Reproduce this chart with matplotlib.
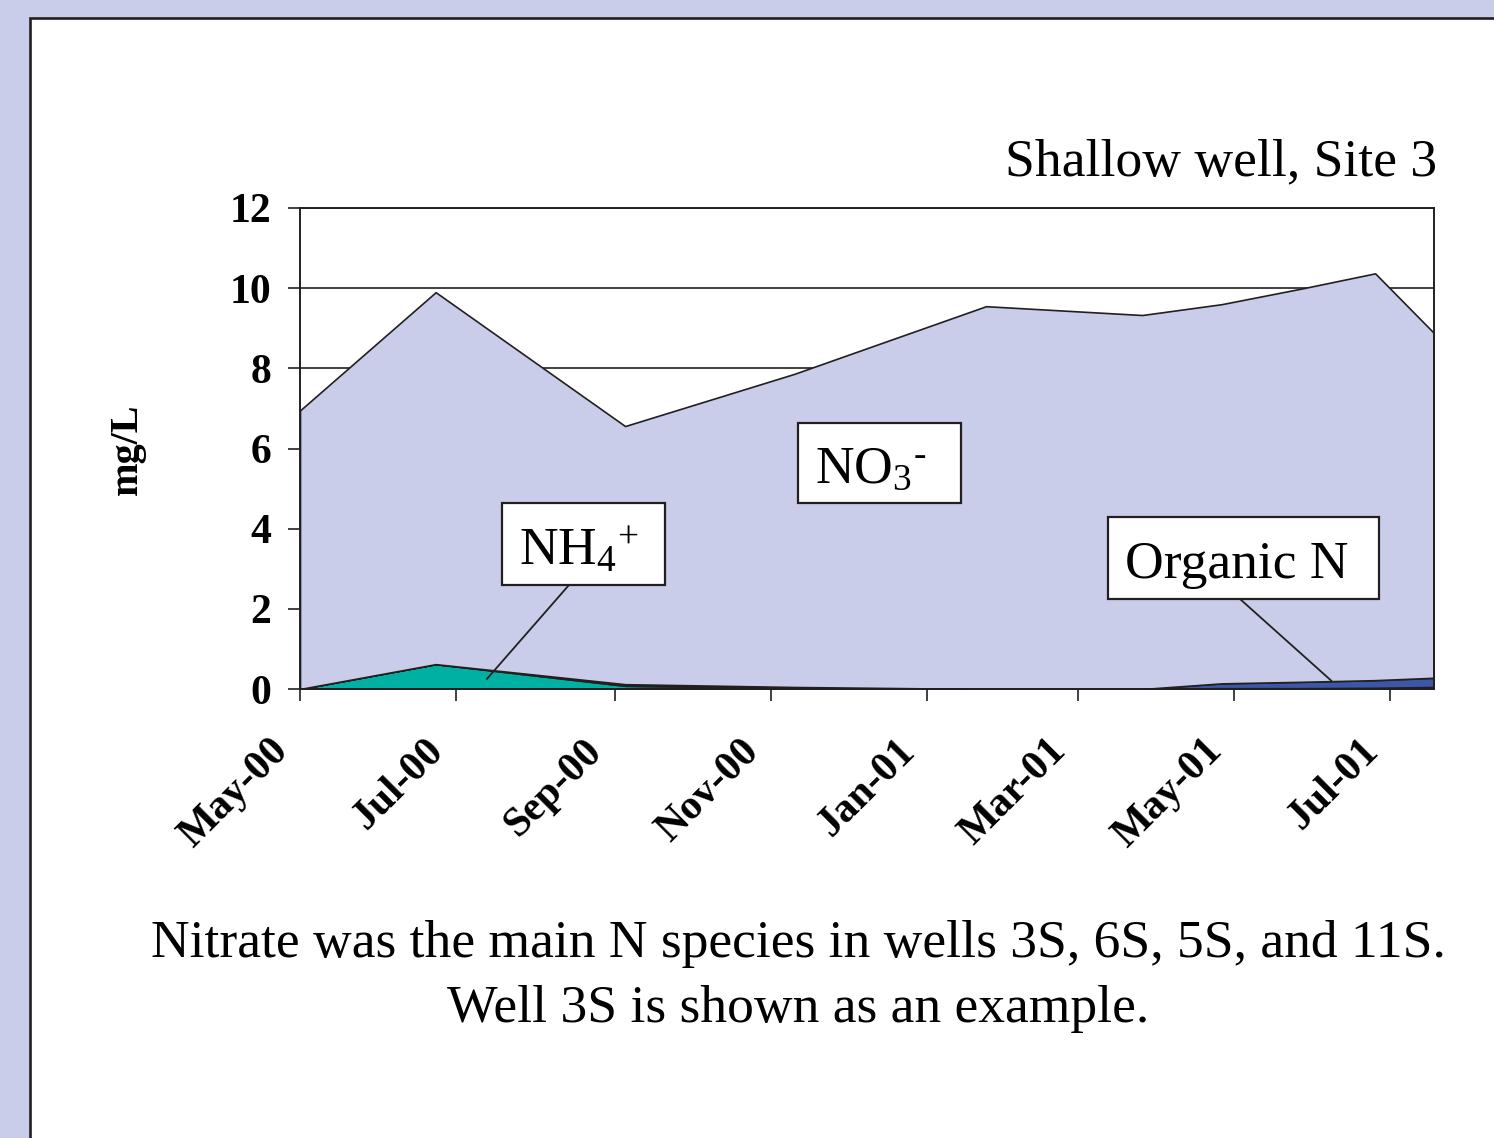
import matplotlib
matplotlib.use("Agg")
import matplotlib.pyplot as plt
import matplotlib.dates as mdates
import matplotlib.transforms as mtransforms
from matplotlib.patches import Rectangle
import pandas as pd

plt.rcParams.update({
    'font.family': 'Liberation Serif',
    'mathtext.fontset': 'custom',
    'mathtext.rm': 'Liberation Serif',
    'mathtext.it': 'Liberation Serif:italic',
    'mathtext.default': 'regular',
})

# sample dates and concentrations (mg/L), stacked bottom -> top
dates = pd.to_datetime(['2000-05-01', '2000-06-23', '2000-09-05', '2000-11-10',
                        '2001-01-24', '2001-03-26', '2001-04-26', '2001-05-28',
                        '2001-06-25', '2001-07-18'])
nh4 = [0.0, 0.62, 0.08, 0.02, 0.0, 0.0, 0.02, 0.02, 0.03, 0.05]
org_n = [0.0, 0.0, 0.04, 0.03, 0.0, 0.0, 0.12, 0.16, 0.19, 0.23]
no3 = [6.95, 9.28, 6.44, 7.81, 9.55, 9.33, 9.46, 9.82, 10.15, 8.60]

y_ticks = [0, 2, 4, 6, 8, 10, 12]

LAVENDER = '#c9cde9'
TEAL = '#00b0a2'
BLUE = '#3c56a8'
INK = '#231f20'

W, H = 1494, 1138
fig = plt.figure(figsize=(W / 100, H / 100), dpi=100)
fig.patch.set_facecolor(LAVENDER)

# white panel with black border on top/left
panel = Rectangle((30 / W, -0.02), 1.05, 1 - 18 / H + 0.02, transform=fig.transFigure,
                  facecolor='white', edgecolor=INK, linewidth=1.9, zorder=0)
fig.add_artist(panel)

ax = fig.add_axes([300 / W, 1 - 689 / H, 1134 / W, 481 / H])
ax.set_facecolor('white')
ax.set_axisbelow(True)

ax.stackplot(dates, nh4, org_n, no3, colors=[TEAL, BLUE, LAVENDER],
             edgecolor=INK, linewidth=1.2)

ax.set_ylim(0, 12)
ax.set_yticks(y_ticks)
ax.set_xlim(dates[0], dates[-1])
ax.xaxis.set_major_locator(mdates.MonthLocator(bymonth=[1, 3, 5, 7, 9, 11]))
ax.xaxis.set_major_formatter(mdates.DateFormatter('%b-%y'))
ax.grid(axis='y', color=INK, linewidth=1.2)

for side in ['left', 'right', 'bottom', 'top']:
    ax.spines[side].set_color(INK)
    ax.spines[side].set_linewidth(1.4)

ax.tick_params(axis='y', direction='out', length=8.6, width=1.2, color=INK, pad=12,
               labelsize=30)
ax.tick_params(axis='x', direction='out', length=8.6, width=1.2, color=INK, pad=32,
               labelsize=30)
for lab in ax.get_yticklabels():
    lab.set_fontweight('bold')
shift = mtransforms.ScaledTranslation(-0.18, 0, fig.dpi_scale_trans)
for lab in ax.get_xticklabels():
    lab.set_fontweight('bold')
    lab.set_rotation(45)
    lab.set_ha('right')
    lab.set_va('center')
    lab.set_rotation_mode('anchor')
    lab.set_transform(lab.get_transform() + shift)

ax.text(-0.1526, 0.499, 'mg/L', transform=ax.transAxes, rotation=90,
        ha='center', va='center', fontsize=29, fontweight='bold')


def afrac(px, py):
    return ((px - 300) / 1134, (689 - py) / 481)


def label_box(x0, y0, x1, y1, text, tx, ty):
    fx0, fy1 = afrac(x0, y1)
    fx1, fy0 = afrac(x1, y0)
    ax.add_patch(Rectangle((fx0, fy1), fx1 - fx0, fy0 - fy1, transform=ax.transAxes,
                           facecolor='white', edgecolor=INK, linewidth=1.6, zorder=5,
                           clip_on=False))
    ax.text(*afrac(tx, ty), text, transform=ax.transAxes, ha='left', va='baseline',
            fontsize=38.5, zorder=6)


label_box(502, 503, 665, 585, r'NH$_4{}^{+}$', 519, 565)
label_box(798, 423, 961, 503, 'NO$_3{}^{\u2010}$', 815, 483)
label_box(1108, 517, 1379, 599, 'Organic N', 1125, 578)

leader = dict(arrowstyle='-', color=INK, lw=1.3, shrinkA=0, shrinkB=0)
ax.annotate('', xy=(pd.Timestamp('2000-07-13'), 0.25), xycoords='data',
            xytext=afrac(569, 585), textcoords='axes fraction', arrowprops=leader)
ax.annotate('', xy=(pd.Timestamp('2001-06-08'), 0.2), xycoords='data',
            xytext=afrac(1240, 599), textcoords='axes fraction', arrowprops=leader)

fig.text(1437 / W, 1 - 175 / H, 'Shallow well, Site 3', ha='right', va='baseline',
         fontsize=38.5)
fig.text(798 / W, 1 - 957 / H,
         'Nitrate was the main N species in wells 3S, 6S, 5S, and 11S.',
         ha='center', va='baseline', fontsize=38.5)
fig.text(798 / W, 1 - 1022 / H, 'Well 3S is shown as an example.',
         ha='center', va='baseline', fontsize=38.5)

fig.savefig('out.png', dpi=100, facecolor=fig.get_facecolor())
